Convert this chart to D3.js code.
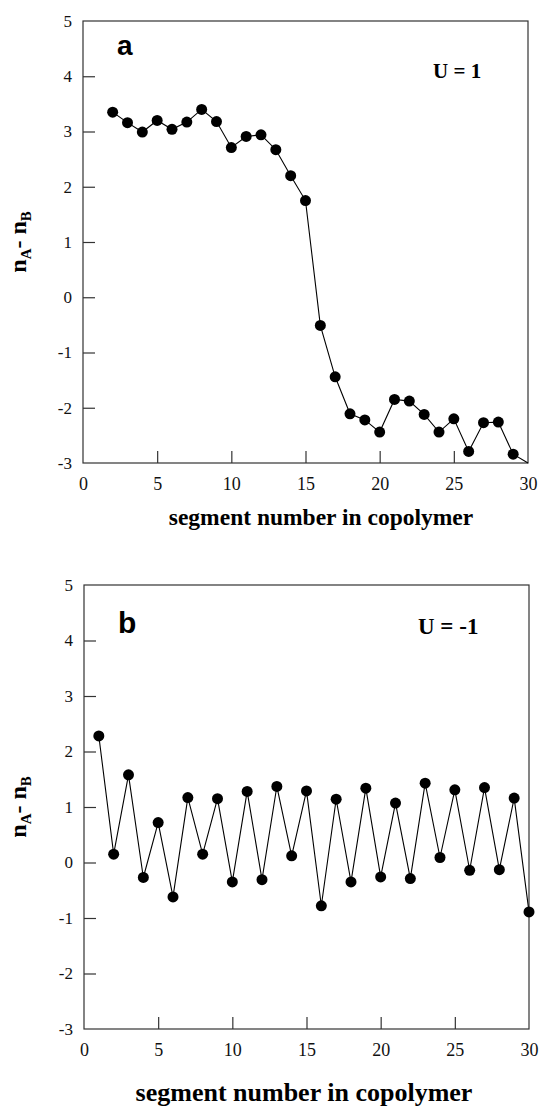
<!DOCTYPE html>
<html>
<head>
<meta charset="utf-8">
<script src="https://cdn.jsdelivr.net/npm/d3@7"></script>
<style>
  html, body { margin: 0; padding: 0; background: #fff; }
  svg { display: block; }
</style>
</head>
<body>
<svg id="chart" width="540" height="1106"></svg>
<script>
// ---- data ----
const xTicks = [0, 5, 10, 15, 20, 25, 30];
const yTicks = [-3, -2, -1, 0, 1, 2, 3, 4, 5];
const xDomain = [0, 30];
const yDomain = [-3, 5];

// panel a (U = 1)
const segmentsA = [2, 3, 4, 5, 6, 7, 8, 9, 10, 11, 12, 13, 14, 15, 16, 17, 18, 19, 20, 21, 22, 23, 24, 25, 26, 27, 28, 29, 30];
const valuesA = [3.35, 3.16, 2.99, 3.20, 3.04, 3.17, 3.40, 3.18, 2.71, 2.91, 2.94, 2.67, 2.20, 1.75, -0.51, -1.44, -2.11, -2.22, -2.44, -1.85, -1.88, -2.12, -2.44, -2.20, -2.79, -2.27, -2.26, -2.84, -3.00];

// panel b (U = -1)
const segmentsB = [1, 2, 3, 4, 5, 6, 7, 8, 9, 10, 11, 12, 13, 14, 15, 16, 17, 18, 19, 20, 21, 22, 23, 24, 25, 26, 27, 28, 29, 30];
const valuesB = [2.28, 0.15, 1.58, -0.27, 0.72, -0.62, 1.17, 0.15, 1.15, -0.35, 1.28, -0.31, 1.37, 0.12, 1.29, -0.78, 1.14, -0.35, 1.34, -0.26, 1.07, -0.29, 1.43, 0.09, 1.31, -0.14, 1.35, -0.13, 1.16, -0.89];

const panelLetters = ["a", "b"];
const panelLabels = ["U = 1", "U = -1"];
const xTitle = "segment number in copolymer";

// ---- drawing ----
const svg = d3.select("#chart");
const serif = "'Liberation Serif', 'Times New Roman', serif";
const sans = "'Liberation Sans', Arial, sans-serif";

function drawPanel(opt) {
  const {left, right, top, bottom, segs, vals, letter, label, fs} = opt;
  const x = d3.scaleLinear().domain(xDomain).range([left, right]);
  const y = d3.scaleLinear().domain(yDomain).range([bottom, top]);
  const g = svg.append("g");

  // frame
  g.append("rect")
    .attr("x", left).attr("y", top)
    .attr("width", right - left).attr("height", bottom - top)
    .attr("fill", "none").attr("stroke", "#333").attr("stroke-width", 1.2);

  const fmt = d => String(d);

  // y axis (ticks inward)
  const yAxis = d3.axisLeft(y).tickValues(yTicks).tickSize(-12).tickPadding(11).tickFormat(fmt);
  const ya = g.append("g").attr("transform", `translate(${left},0)`).call(yAxis)
    .attr("font-family", serif).attr("font-size", fs.tick);
  ya.select(".domain").remove();
  ya.selectAll("line").attr("stroke", "#333").attr("stroke-width", 1.2);
  ya.selectAll("text").style("font-family", serif).style("font-size", fs.tick + "px").attr("fill", "#111");
  ya.selectAll(".tick").filter(d => d === yDomain[0] || d === yDomain[1]).select("line").remove();

  // x axis (ticks inward)
  const xAxis = d3.axisBottom(x).tickValues(xTicks).tickSize(-12).tickPadding(14).tickFormat(fmt);
  const xa = g.append("g").attr("transform", `translate(0,${bottom})`).call(xAxis)
    .attr("font-family", serif).attr("font-size", fs.xtick);
  xa.select(".domain").remove();
  xa.selectAll("line").attr("stroke", "#333").attr("stroke-width", 1.2);
  xa.selectAll("text").style("font-family", serif).style("font-size", fs.xtick + "px").attr("fill", "#111");
  xa.selectAll(".tick").filter(d => d === xDomain[0] || d === xDomain[1]).select("line").remove();

  // data line
  const pts = segs.map((s, i) => ({s, v: vals[i]}));
  const line = d3.line().x(d => x(d.s)).y(d => y(d.v));
  g.append("path").datum(pts)
    .attr("d", line).attr("fill", "none").attr("stroke", "#000").attr("stroke-width", 1.1);

  // markers (points strictly inside the plotted range)
  g.selectAll("circle.pt").data(pts.filter(d => d.v > yDomain[0]))
    .join("circle").attr("class", "pt")
    .attr("cx", d => x(d.s)).attr("cy", d => y(d.v))
    .attr("r", 5.5).attr("fill", "#000");

  // panel letter
  g.append("text").attr("x", left + 34).attr("y", top + opt.letterDy)
    .attr("font-family", sans).attr("font-weight", "bold").attr("font-size", fs.letter)
    .attr("fill", "#000").text(letter);

  // U label
  g.append("text").attr("x", opt.uX).attr("y", top + opt.uDy)
    .attr("font-family", serif).attr("font-weight", "bold").attr("font-size", fs.u)
    .attr("fill", "#000").text(label);

  // x title
  g.append("text").attr("x", opt.xtX).attr("y", opt.xtY)
    .attr("text-anchor", "middle")
    .attr("font-family", serif).attr("font-weight", "bold").attr("font-size", fs.xtitle)
    .attr("fill", "#000").text(xTitle);

  // y title: n_A - n_B (rotated)
  const cy = (top + bottom) / 2;
  const yt = g.append("text")
    .attr("transform", `translate(${opt.ytX},${cy}) rotate(-90)`)
    .attr("text-anchor", "middle")
    .attr("font-family", serif).attr("font-weight", "bold").attr("font-size", fs.ytitle)
    .attr("fill", "#000");
  yt.append("tspan").text("n");
  yt.append("tspan").attr("font-size", fs.ytitle * 0.62).attr("dy", 5).text("A");
  yt.append("tspan").attr("dy", -5).text("- n");
  yt.append("tspan").attr("font-size", fs.ytitle * 0.62).attr("dy", 5).text("B");
}

drawPanel({
  left: 83, right: 528, top: 21, bottom: 463,
  segs: segmentsA, vals: valuesA, letter: panelLetters[0], label: panelLabels[0],
  fs: {tick: 17, xtick: 18, letter: 28, u: 21, xtitle: 23.5, ytitle: 24},
  letterDy: 34, uX: 433, uDy: 57, xtX: 321, xtY: 525, ytX: 26
});

drawPanel({
  left: 84, right: 529, top: 585, bottom: 1029,
  segs: segmentsB, vals: valuesB, letter: panelLetters[1], label: panelLabels[1],
  fs: {tick: 17, xtick: 18, letter: 30, u: 23, xtitle: 26, ytitle: 24},
  letterDy: 48, uX: 418, uDy: 49, xtX: 304, xtY: 1101, ytX: 26
});
</script>
</body>
</html>
